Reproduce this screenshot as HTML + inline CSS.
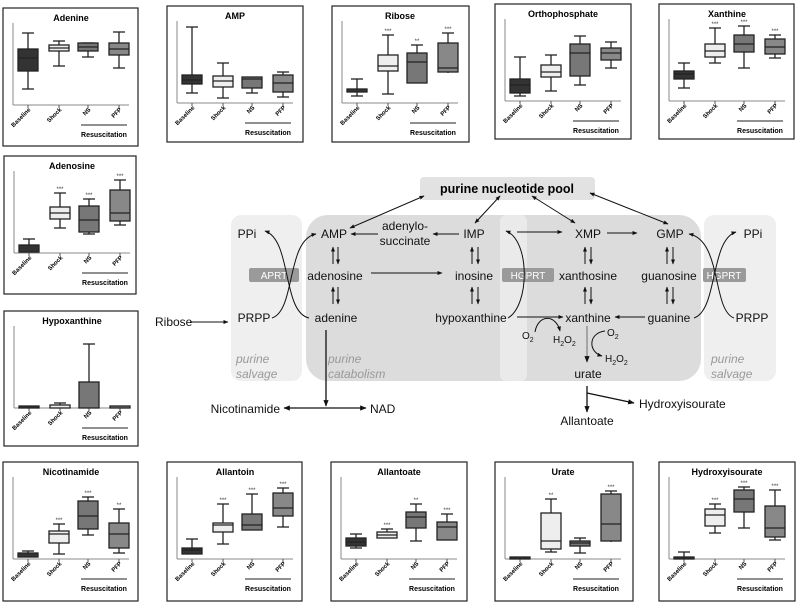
<!DOCTYPE html>
<html><head><meta charset="utf-8"><style>
html,body{margin:0;padding:0;background:#fff}
svg{display:block}
text{font-family:"Liberation Sans",Arial,sans-serif}
.t{font-size:9px;font-weight:bold;text-anchor:middle}
.g{font-size:6px;font-weight:bold;text-anchor:end}
.r{font-size:7px;font-weight:bold;text-anchor:middle}
.s{font-size:6px;text-anchor:middle;fill:#333}
.m{font-size:12px;fill:#111}
.c{text-anchor:middle}
.it{font-size:12px;font-style:italic;fill:#999}
.bx line,.bx rect{stroke:#222;stroke-width:1.3}
</style></head><body>
<svg width="800" height="602" viewBox="0 0 800 602" xmlns="http://www.w3.org/2000/svg">
<defs>
<marker id="a" viewBox="0 0 10 10" refX="9" refY="5" markerWidth="7" markerHeight="7" orient="auto-start-reverse"><path d="M0,1 L10,5 L0,9 z" fill="#111"/></marker>
<marker id="b" viewBox="0 0 10 10" refX="9" refY="5" markerWidth="5" markerHeight="5" orient="auto-start-reverse"><path d="M0,1 L10,5 L0,9 z" fill="#111"/></marker>
<g id="frame">
<line x1="10" y1="15" x2="10" y2="97" stroke="#888" stroke-width="1"/>
<line x1="10" y1="97" x2="126" y2="97" stroke="#888" stroke-width="1"/>
<line x1="25" y1="97" x2="25" y2="100" stroke="#555"/><line x1="56" y1="97" x2="56" y2="100" stroke="#555"/><line x1="85" y1="97" x2="85" y2="100" stroke="#555"/><line x1="116" y1="97" x2="116" y2="100" stroke="#555"/>
<line x1="78" y1="117" x2="124" y2="117" stroke="#222" stroke-width="1"/>
</g>
</defs>

<!-- Panel macro: explicit -->
<!-- Adenine -->
<g transform="translate(3,8)">
<rect x="0" y="0" width="135" height="138" fill="#fff" stroke="#222" stroke-width="1.2"/>
<use href="#frame"/>
<text class="t" x="68" y="13">Adenine</text>
<g class="bx">
<line x1="25" y1="25" x2="25" y2="81"/><line x1="19" y1="25" x2="31" y2="25"/><line x1="19" y1="81" x2="31" y2="81"/><rect x="15" y="41" width="20" height="22" fill="#333"/><line x1="15" y1="50" x2="35" y2="50"/>
<line x1="56" y1="33" x2="56" y2="58"/><line x1="50" y1="33" x2="62" y2="33"/><line x1="50" y1="58" x2="62" y2="58"/><rect x="46" y="37" width="20" height="6" fill="#eee"/><line x1="46" y1="40" x2="66" y2="40"/>
<line x1="85" y1="35" x2="85" y2="49"/><line x1="79" y1="35" x2="91" y2="35"/><line x1="79" y1="49" x2="91" y2="49"/><rect x="75" y="35" width="20" height="8" fill="#777"/><line x1="75" y1="39" x2="95" y2="39"/>
<line x1="116" y1="24" x2="116" y2="60"/><line x1="110" y1="24" x2="122" y2="24"/><line x1="110" y1="60" x2="122" y2="60"/><rect x="106" y="35" width="20" height="12" fill="#888"/><line x1="106" y1="41" x2="126" y2="41"/>
</g>
<text class="g" transform="translate(28,102) rotate(-45)">Baseline</text><text class="g" transform="translate(59,102) rotate(-45)">Shock</text><text class="g" transform="translate(88,102) rotate(-45)">NS</text><text class="g" transform="translate(119,102) rotate(-45)">PFP</text>
<text class="r" x="101" y="129">Resuscitation</text>
</g>

<!-- AMP -->
<g transform="translate(167,6)">
<rect x="0" y="0" width="136" height="136" fill="#fff" stroke="#222" stroke-width="1.2"/>
<use href="#frame"/>
<text class="t" x="68" y="13">AMP</text>
<g class="bx">
<line x1="25" y1="21" x2="25" y2="87"/><line x1="19" y1="21" x2="31" y2="21"/><line x1="19" y1="87" x2="31" y2="87"/><rect x="15" y="69" width="20" height="9" fill="#333"/><line x1="15" y1="74" x2="35" y2="74"/>
<line x1="56" y1="57" x2="56" y2="92"/><line x1="50" y1="57" x2="62" y2="57"/><line x1="50" y1="92" x2="62" y2="92"/><rect x="46" y="70" width="20" height="11" fill="#eee"/><line x1="46" y1="75" x2="66" y2="75"/>
<line x1="85" y1="71" x2="85" y2="87"/><line x1="79" y1="87" x2="91" y2="87"/><rect x="75" y="71" width="20" height="11" fill="#777"/><line x1="75" y1="73" x2="95" y2="73"/>
<line x1="116" y1="66" x2="116" y2="91"/><line x1="110" y1="66" x2="122" y2="66"/><line x1="110" y1="91" x2="122" y2="91"/><rect x="106" y="69" width="20" height="17" fill="#888"/><line x1="106" y1="77" x2="126" y2="77"/>
</g>
<text class="g" transform="translate(28,102) rotate(-45)">Baseline</text><text class="g" transform="translate(59,102) rotate(-45)">Shock</text><text class="g" transform="translate(88,102) rotate(-45)">NS</text><text class="g" transform="translate(119,102) rotate(-45)">PFP</text>
<text class="r" x="101" y="129">Resuscitation</text>
</g>

<!-- Ribose -->
<g transform="translate(332,6)">
<rect x="0" y="0" width="137" height="136" fill="#fff" stroke="#222" stroke-width="1.2"/>
<use href="#frame"/>
<text class="t" x="68" y="13">Ribose</text>
<g class="bx">
<line x1="25" y1="73" x2="25" y2="90"/><line x1="19" y1="73" x2="31" y2="73"/><line x1="19" y1="90" x2="31" y2="90"/><rect x="15" y="83" width="20" height="3" fill="#333"/>
<line x1="56" y1="29" x2="56" y2="88"/><line x1="50" y1="29" x2="62" y2="29"/><line x1="50" y1="88" x2="62" y2="88"/><rect x="46" y="49" width="20" height="16" fill="#eee"/><line x1="46" y1="60" x2="66" y2="60"/>
<line x1="85" y1="39" x2="85" y2="77"/><line x1="79" y1="39" x2="91" y2="39"/><rect x="75" y="47" width="20" height="30" fill="#777"/><line x1="75" y1="56" x2="95" y2="56"/>
<line x1="116" y1="27" x2="116" y2="67"/><line x1="110" y1="27" x2="122" y2="27"/><rect x="106" y="37" width="20" height="29" fill="#888"/><line x1="106" y1="62" x2="126" y2="62"/>
</g>
<text class="s" x="56" y="27">***</text><text class="s" x="85" y="37">**</text><text class="s" x="116" y="25">***</text>
<text class="g" transform="translate(28,102) rotate(-45)">Baseline</text><text class="g" transform="translate(59,102) rotate(-45)">Shock</text><text class="g" transform="translate(88,102) rotate(-45)">NS</text><text class="g" transform="translate(119,102) rotate(-45)">PFP</text>
<text class="r" x="101" y="129">Resuscitation</text>
</g>

<!-- Orthophosphate -->
<g transform="translate(495,4)">
<rect x="0" y="0" width="136" height="135" fill="#fff" stroke="#222" stroke-width="1.2"/>
<use href="#frame"/>
<text class="t" x="68" y="13">Orthophosphate</text>
<g class="bx">
<line x1="25" y1="53" x2="25" y2="92"/><line x1="19" y1="53" x2="31" y2="53"/><line x1="19" y1="92" x2="31" y2="92"/><rect x="15" y="75" width="20" height="14" fill="#333"/><line x1="15" y1="81" x2="35" y2="81"/>
<line x1="56" y1="51" x2="56" y2="87"/><line x1="50" y1="51" x2="62" y2="51"/><line x1="50" y1="87" x2="62" y2="87"/><rect x="46" y="61" width="20" height="12" fill="#eee"/><line x1="46" y1="68" x2="66" y2="68"/>
<line x1="85" y1="32" x2="85" y2="81"/><line x1="79" y1="32" x2="91" y2="32"/><line x1="79" y1="81" x2="91" y2="81"/><rect x="75" y="40" width="20" height="32" fill="#777"/><line x1="75" y1="49" x2="95" y2="49"/>
<line x1="116" y1="38" x2="116" y2="64"/><line x1="110" y1="38" x2="122" y2="38"/><line x1="110" y1="64" x2="122" y2="64"/><rect x="106" y="44" width="20" height="12" fill="#888"/><line x1="106" y1="49" x2="126" y2="49"/>
</g>
<text class="g" transform="translate(28,102) rotate(-45)">Baseline</text><text class="g" transform="translate(59,102) rotate(-45)">Shock</text><text class="g" transform="translate(88,102) rotate(-45)">NS</text><text class="g" transform="translate(119,102) rotate(-45)">PFP</text>
<text class="r" x="101" y="129">Resuscitation</text>
</g>

<!-- Xanthine -->
<g transform="translate(659,4)">
<rect x="0" y="0" width="135" height="135" fill="#fff" stroke="#222" stroke-width="1.2"/>
<use href="#frame"/>
<text class="t" x="68" y="13">Xanthine</text>
<g class="bx">
<line x1="25" y1="59" x2="25" y2="84"/><line x1="19" y1="59" x2="31" y2="59"/><line x1="19" y1="84" x2="31" y2="84"/><rect x="15" y="67" width="20" height="8" fill="#333"/><line x1="15" y1="70" x2="35" y2="70"/>
<line x1="56" y1="24" x2="56" y2="59"/><line x1="50" y1="24" x2="62" y2="24"/><line x1="50" y1="59" x2="62" y2="59"/><rect x="46" y="40" width="20" height="13" fill="#eee"/><line x1="46" y1="47" x2="66" y2="47"/>
<line x1="85" y1="22" x2="85" y2="64"/><line x1="79" y1="22" x2="91" y2="22"/><line x1="79" y1="64" x2="91" y2="64"/><rect x="75" y="31" width="20" height="17" fill="#777"/><line x1="75" y1="40" x2="95" y2="40"/>
<line x1="116" y1="31" x2="116" y2="54"/><line x1="110" y1="31" x2="122" y2="31"/><line x1="110" y1="54" x2="122" y2="54"/><rect x="106" y="35" width="20" height="15" fill="#888"/><line x1="106" y1="43" x2="126" y2="43"/>
</g>
<text class="s" x="56" y="22">***</text><text class="s" x="85" y="20">***</text><text class="s" x="116" y="29">***</text>
<text class="g" transform="translate(28,102) rotate(-45)">Baseline</text><text class="g" transform="translate(59,102) rotate(-45)">Shock</text><text class="g" transform="translate(88,102) rotate(-45)">NS</text><text class="g" transform="translate(119,102) rotate(-45)">PFP</text>
<text class="r" x="101" y="129">Resuscitation</text>
</g>

<!-- Adenosine -->
<g transform="translate(4,156)">
<rect x="0" y="0" width="132" height="138" fill="#fff" stroke="#222" stroke-width="1.2"/>
<use href="#frame"/>
<text class="t" x="68" y="13">Adenosine</text>
<g class="bx">
<line x1="25" y1="83" x2="25" y2="96"/><line x1="19" y1="83" x2="31" y2="83"/><rect x="15" y="89" width="20" height="7" fill="#333"/>
<line x1="56" y1="37" x2="56" y2="72"/><line x1="50" y1="37" x2="62" y2="37"/><line x1="50" y1="72" x2="62" y2="72"/><rect x="46" y="51" width="20" height="12" fill="#eee"/><line x1="46" y1="57" x2="66" y2="57"/>
<line x1="85" y1="43" x2="85" y2="78"/><line x1="79" y1="43" x2="91" y2="43"/><line x1="79" y1="78" x2="91" y2="78"/><rect x="75" y="50" width="20" height="26" fill="#777"/><line x1="75" y1="64" x2="95" y2="64"/>
<line x1="116" y1="24" x2="116" y2="69"/><line x1="110" y1="24" x2="122" y2="24"/><line x1="110" y1="69" x2="122" y2="69"/><rect x="106" y="34" width="20" height="31" fill="#888"/><line x1="106" y1="57" x2="126" y2="57"/>
</g>
<text class="s" x="56" y="35">***</text><text class="s" x="85" y="41">***</text><text class="s" x="116" y="22">***</text>
<text class="g" transform="translate(28,102) rotate(-45)">Baseline</text><text class="g" transform="translate(59,102) rotate(-45)">Shock</text><text class="g" transform="translate(88,102) rotate(-45)">NS</text><text class="g" transform="translate(119,102) rotate(-45)">PFP</text>
<text class="r" x="101" y="129">Resuscitation</text>
</g>

<!-- Hypoxanthine -->
<g transform="translate(4,311)">
<rect x="0" y="0" width="134" height="135" fill="#fff" stroke="#222" stroke-width="1.2"/>
<use href="#frame"/>
<text class="t" x="68" y="13">Hypoxanthine</text>
<g class="bx">
<rect x="15" y="95" width="20" height="2" fill="#333"/>
<line x1="56" y1="92" x2="56" y2="95"/><line x1="50" y1="92" x2="62" y2="92"/><rect x="46" y="94" width="20" height="3" fill="#eee"/>
<line x1="85" y1="33" x2="85" y2="71"/><line x1="79" y1="33" x2="91" y2="33"/><rect x="75" y="71" width="20" height="26" fill="#777"/>
<rect x="106" y="95" width="20" height="2" fill="#888"/>
</g>
<text class="g" transform="translate(28,102) rotate(-45)">Baseline</text><text class="g" transform="translate(59,102) rotate(-45)">Shock</text><text class="g" transform="translate(88,102) rotate(-45)">NS</text><text class="g" transform="translate(119,102) rotate(-45)">PFP</text>
<text class="r" x="101" y="129">Resuscitation</text>
</g>

<!-- Nicotinamide -->
<g transform="translate(3,462)">
<rect x="0" y="0" width="135" height="139" fill="#fff" stroke="#222" stroke-width="1.2"/>
<use href="#frame"/>
<text class="t" x="68" y="13">Nicotinamide</text>
<g class="bx">
<line x1="25" y1="89" x2="25" y2="95"/><line x1="19" y1="89" x2="31" y2="89"/><rect x="15" y="91" width="20" height="4" fill="#333"/>
<line x1="56" y1="62" x2="56" y2="92"/><line x1="50" y1="62" x2="62" y2="62"/><line x1="50" y1="92" x2="62" y2="92"/><rect x="46" y="69" width="20" height="12" fill="#eee"/><line x1="46" y1="72" x2="66" y2="72"/>
<line x1="85" y1="35" x2="85" y2="73"/><line x1="79" y1="35" x2="91" y2="35"/><line x1="79" y1="73" x2="91" y2="73"/><rect x="75" y="39" width="20" height="28" fill="#777"/><line x1="75" y1="54" x2="95" y2="54"/>
<line x1="116" y1="47" x2="116" y2="91"/><line x1="110" y1="47" x2="122" y2="47"/><line x1="110" y1="91" x2="122" y2="91"/><rect x="106" y="61" width="20" height="25" fill="#888"/><line x1="106" y1="72" x2="126" y2="72"/>
</g>
<text class="s" x="56" y="60">***</text><text class="s" x="85" y="33">***</text><text class="s" x="116" y="45">**</text>
<text class="g" transform="translate(28,102) rotate(-45)">Baseline</text><text class="g" transform="translate(59,102) rotate(-45)">Shock</text><text class="g" transform="translate(88,102) rotate(-45)">NS</text><text class="g" transform="translate(119,102) rotate(-45)">PFP</text>
<text class="r" x="101" y="129">Resuscitation</text>
</g>

<!-- Allantoin -->
<g transform="translate(167,462)">
<rect x="0" y="0" width="135" height="139" fill="#fff" stroke="#222" stroke-width="1.2"/>
<use href="#frame"/>
<text class="t" x="68" y="13">Allantoin</text>
<g class="bx">
<line x1="25" y1="77" x2="25" y2="92"/><line x1="19" y1="77" x2="31" y2="77"/><rect x="15" y="86" width="20" height="6" fill="#333"/><line x1="15" y1="88" x2="35" y2="88"/>
<line x1="56" y1="42" x2="56" y2="82"/><line x1="50" y1="42" x2="62" y2="42"/><line x1="50" y1="82" x2="62" y2="82"/><rect x="46" y="61" width="20" height="9" fill="#eee"/><line x1="46" y1="63" x2="66" y2="63"/>
<line x1="85" y1="32" x2="85" y2="68"/><line x1="79" y1="32" x2="91" y2="32"/><rect x="75" y="52" width="20" height="16" fill="#777"/><line x1="75" y1="63" x2="95" y2="63"/>
<line x1="116" y1="26" x2="116" y2="65"/><line x1="110" y1="26" x2="122" y2="26"/><line x1="110" y1="65" x2="122" y2="65"/><rect x="106" y="31" width="20" height="23" fill="#888"/><line x1="106" y1="46" x2="126" y2="46"/>
</g>
<text class="s" x="56" y="40">***</text><text class="s" x="85" y="30">***</text><text class="s" x="116" y="24">***</text>
<text class="g" transform="translate(28,102) rotate(-45)">Baseline</text><text class="g" transform="translate(59,102) rotate(-45)">Shock</text><text class="g" transform="translate(88,102) rotate(-45)">NS</text><text class="g" transform="translate(119,102) rotate(-45)">PFP</text>
<text class="r" x="101" y="129">Resuscitation</text>
</g>

<!-- Allantoate -->
<g transform="translate(331,462)">
<rect x="0" y="0" width="136" height="139" fill="#fff" stroke="#222" stroke-width="1.2"/>
<use href="#frame"/>
<text class="t" x="68" y="13">Allantoate</text>
<g class="bx">
<line x1="25" y1="72" x2="25" y2="86"/><line x1="19" y1="72" x2="31" y2="72"/><line x1="19" y1="86" x2="31" y2="86"/><rect x="15" y="76" width="20" height="8" fill="#333"/><line x1="15" y1="80" x2="35" y2="80"/>
<line x1="56" y1="67" x2="56" y2="76"/><line x1="50" y1="67" x2="62" y2="67"/><rect x="46" y="70" width="20" height="6" fill="#eee"/><line x1="46" y1="73" x2="66" y2="73"/>
<line x1="85" y1="42" x2="85" y2="79"/><line x1="79" y1="42" x2="91" y2="42"/><line x1="79" y1="79" x2="91" y2="79"/><rect x="75" y="50" width="20" height="16" fill="#777"/><line x1="75" y1="55" x2="95" y2="55"/>
<line x1="116" y1="52" x2="116" y2="78"/><line x1="110" y1="52" x2="122" y2="52"/><rect x="106" y="60" width="20" height="18" fill="#888"/><line x1="106" y1="65" x2="126" y2="65"/>
</g>
<text class="s" x="56" y="65">***</text><text class="s" x="85" y="40">**</text><text class="s" x="116" y="50">***</text>
<text class="g" transform="translate(28,102) rotate(-45)">Baseline</text><text class="g" transform="translate(59,102) rotate(-45)">Shock</text><text class="g" transform="translate(88,102) rotate(-45)">NS</text><text class="g" transform="translate(119,102) rotate(-45)">PFP</text>
<text class="r" x="101" y="129">Resuscitation</text>
</g>

<!-- Urate -->
<g transform="translate(495,462)">
<rect x="0" y="0" width="138" height="139" fill="#fff" stroke="#222" stroke-width="1.2"/>
<use href="#frame"/>
<text class="t" x="68" y="13">Urate</text>
<g class="bx">
<rect x="15" y="95" width="20" height="2" fill="#333"/>
<line x1="56" y1="37" x2="56" y2="90"/><line x1="50" y1="37" x2="62" y2="37"/><line x1="50" y1="90" x2="62" y2="90"/><rect x="46" y="51" width="20" height="36" fill="#eee"/><line x1="46" y1="79" x2="66" y2="79"/>
<line x1="85" y1="76" x2="85" y2="91"/><line x1="79" y1="76" x2="91" y2="76"/><line x1="79" y1="91" x2="91" y2="91"/><rect x="75" y="79" width="20" height="5" fill="#777"/><line x1="75" y1="81" x2="95" y2="81"/>
<line x1="116" y1="29" x2="116" y2="80"/><line x1="110" y1="29" x2="122" y2="29"/><rect x="106" y="32" width="20" height="47" fill="#888"/><line x1="106" y1="62" x2="126" y2="62"/>
</g>
<text class="s" x="56" y="35">**</text><text class="s" x="116" y="27">***</text>
<text class="g" transform="translate(28,102) rotate(-45)">Baseline</text><text class="g" transform="translate(59,102) rotate(-45)">Shock</text><text class="g" transform="translate(88,102) rotate(-45)">NS</text><text class="g" transform="translate(119,102) rotate(-45)">PFP</text>
<text class="r" x="101" y="129">Resuscitation</text>
</g>

<!-- Hydroxyisourate -->
<g transform="translate(659,462)">
<rect x="0" y="0" width="136" height="139" fill="#fff" stroke="#222" stroke-width="1.2"/>
<use href="#frame"/>
<text class="t" x="68" y="13">Hydroxyisourate</text>
<g class="bx">
<line x1="25" y1="90" x2="25" y2="95"/><line x1="19" y1="90" x2="31" y2="90"/><rect x="15" y="95" width="20" height="2" fill="#333"/>
<line x1="56" y1="42" x2="56" y2="71"/><line x1="50" y1="42" x2="62" y2="42"/><line x1="50" y1="71" x2="62" y2="71"/><rect x="46" y="47" width="20" height="17" fill="#eee"/><line x1="46" y1="53" x2="66" y2="53"/>
<line x1="85" y1="25" x2="85" y2="66"/><line x1="79" y1="25" x2="91" y2="25"/><line x1="79" y1="66" x2="91" y2="66"/><rect x="75" y="28" width="20" height="22" fill="#777"/><line x1="75" y1="37" x2="95" y2="37"/>
<line x1="116" y1="28" x2="116" y2="78"/><line x1="110" y1="28" x2="122" y2="28"/><line x1="110" y1="78" x2="122" y2="78"/><rect x="106" y="44" width="20" height="31" fill="#888"/><line x1="106" y1="66" x2="126" y2="66"/>
</g>
<text class="s" x="56" y="40">***</text><text class="s" x="85" y="23">***</text><text class="s" x="116" y="26">***</text>
<text class="g" transform="translate(28,102) rotate(-45)">Baseline</text><text class="g" transform="translate(59,102) rotate(-45)">Shock</text><text class="g" transform="translate(88,102) rotate(-45)">NS</text><text class="g" transform="translate(119,102) rotate(-45)">PFP</text>
<text class="r" x="101" y="129">Resuscitation</text>
</g>

<!-- Central diagram backgrounds -->
<rect x="231" y="215" width="71" height="166" rx="10" fill="#efefef"/>
<rect x="306" y="215" width="395" height="166" rx="22" fill="#dcdcdc"/>
<rect x="500" y="215" width="27" height="166" rx="6" fill="#eaeaea"/>
<rect x="704" y="215" width="72" height="166" rx="10" fill="#efefef"/>
<rect x="420" y="177" width="175" height="23" rx="4" fill="#e2e2e2"/>
<text x="507" y="193" font-size="12.5" font-weight="bold" text-anchor="middle">purine nucleotide pool</text>

<!-- enzyme boxes -->
<rect x="249" y="268" width="50" height="14" rx="2" fill="#9a9a9a"/><text x="274" y="279" font-size="10" fill="#fff" text-anchor="middle">APRT</text>
<rect x="502" y="268" width="52" height="14" rx="2" fill="#9a9a9a"/><text x="528" y="279" font-size="10" fill="#fff" text-anchor="middle">HGPRT</text>
<rect x="703" y="268" width="43" height="14" rx="2" fill="#9a9a9a"/><text x="724" y="279" font-size="10" fill="#fff" text-anchor="middle">HGPRT</text>

<!-- labels -->
<g class="m">
<text class="c" x="247" y="238">PPi</text>
<text class="c" x="334" y="238">AMP</text>
<text class="c" x="405" y="230">adenylo-</text>
<text class="c" x="405" y="245">succinate</text>
<text class="c" x="474" y="238">IMP</text>
<text class="c" x="588" y="238">XMP</text>
<text class="c" x="670" y="238">GMP</text>
<text class="c" x="753" y="238">PPi</text>
<text class="c" x="335" y="280">adenosine</text>
<text class="c" x="474" y="280">inosine</text>
<text class="c" x="588" y="280">xanthosine</text>
<text class="c" x="669" y="280">guanosine</text>
<text class="c" x="254" y="322">PRPP</text>
<text class="c" x="336" y="322">adenine</text>
<text class="c" x="471" y="322">hypoxanthine</text>
<text class="c" x="588" y="322">xanthine</text>
<text class="c" x="669" y="322">guanine</text>
<text class="c" x="752" y="322">PRPP</text>
<text x="155" y="326">Ribose</text>
<text class="c" x="588" y="378">urate</text>
<text x="280" y="413" text-anchor="end">Nicotinamide</text>
<text x="370" y="413">NAD</text>
<text class="c" x="587" y="425">Allantoate</text>
<text x="639" y="408">Hydroxyisourate</text>
</g>
<g font-size="10" fill="#111">
<text x="522" y="339">O<tspan font-size="7" dy="3">2</tspan></text>
<text x="553" y="343">H<tspan font-size="7" dy="3">2</tspan><tspan dy="-3">O</tspan><tspan font-size="7" dy="3">2</tspan></text>
<text x="607" y="336">O<tspan font-size="7" dy="3">2</tspan></text>
<text x="605" y="362">H<tspan font-size="7" dy="3">2</tspan><tspan dy="-3">O</tspan><tspan font-size="7" dy="3">2</tspan></text>
</g>
<g class="it">
<text x="236" y="363">purine</text><text x="236" y="378">salvage</text>
<text x="328" y="363">purine</text><text x="328" y="378">catabolism</text>
<text x="711" y="363">purine</text><text x="711" y="378">salvage</text>
</g>

<!-- arrows -->
<g stroke="#111" stroke-width="1" fill="none">
<line x1="424" y1="196" x2="350" y2="228" marker-start="url(#b)" marker-end="url(#b)"/>
<line x1="500" y1="196" x2="475" y2="223" marker-start="url(#b)" marker-end="url(#b)"/>
<line x1="532" y1="196" x2="575" y2="223" marker-start="url(#b)" marker-end="url(#b)"/>
<line x1="590" y1="193" x2="668" y2="224" marker-start="url(#b)" marker-end="url(#b)"/>
<line x1="378" y1="234" x2="351" y2="234" marker-end="url(#b)"/>
<line x1="459" y1="234" x2="433" y2="234" marker-end="url(#b)"/>
<line x1="517" y1="232" x2="562" y2="232" marker-end="url(#b)"/>
<line x1="607" y1="233" x2="637" y2="233" marker-end="url(#b)"/>
<line x1="371" y1="273" x2="442" y2="273" marker-end="url(#b)"/>
<line x1="517" y1="317" x2="563" y2="317" marker-end="url(#b)"/>
<line x1="645" y1="317" x2="615" y2="317" marker-end="url(#b)"/>
<line x1="190" y1="322" x2="228" y2="322" marker-end="url(#b)"/>
<line x1="326" y1="330" x2="326" y2="406" stroke-width="1.3" marker-end="url(#b)"/>
<line x1="325" y1="408" x2="284" y2="408" stroke-width="1.3" marker-end="url(#b)"/>
<line x1="325" y1="408" x2="366" y2="408" stroke-width="1.3" marker-end="url(#b)"/>
<line x1="587" y1="326" x2="587" y2="362" stroke="#888" stroke-width="1.3" marker-end="url(#b)"/>
<line x1="587" y1="386" x2="587" y2="412" stroke-width="1.3" marker-end="url(#b)"/>
<line x1="587" y1="393" x2="634" y2="403" stroke-width="1.3" marker-end="url(#b)"/>
<!-- up/down pairs -->
<g>
<line x1="333" y1="264" x2="333" y2="247" marker-end="url(#b)"/><line x1="338" y1="247" x2="338" y2="264" marker-end="url(#b)"/>
<line x1="333" y1="304" x2="333" y2="287" marker-end="url(#b)"/><line x1="338" y1="287" x2="338" y2="304" marker-end="url(#b)"/>
<line x1="472" y1="264" x2="472" y2="247" marker-end="url(#b)"/><line x1="478" y1="247" x2="478" y2="264" marker-end="url(#b)"/>
<line x1="472" y1="304" x2="472" y2="287" marker-end="url(#b)"/><line x1="478" y1="287" x2="478" y2="304" marker-end="url(#b)"/>
<line x1="585" y1="264" x2="585" y2="247" marker-end="url(#b)"/><line x1="591" y1="247" x2="591" y2="264" marker-end="url(#b)"/>
<line x1="585" y1="304" x2="585" y2="287" marker-end="url(#b)"/><line x1="591" y1="287" x2="591" y2="304" marker-end="url(#b)"/>
<line x1="667" y1="264" x2="667" y2="247" marker-end="url(#b)"/><line x1="673" y1="247" x2="673" y2="264" marker-end="url(#b)"/>
<line x1="667" y1="304" x2="667" y2="287" marker-end="url(#b)"/><line x1="673" y1="287" x2="673" y2="304" marker-end="url(#b)"/>
</g>
<!-- salvage curves -->
<path d="M272,318 C296,310 286,240 316,234" marker-end="url(#b)"/>
<path d="M309,318 C282,312 292,240 265,231" marker-end="url(#b)"/>
<path d="M508,318 C530,305 530,240 506,231" marker-end="url(#b)"/>
<path d="M694,318 C718,310 710,240 736,232" marker-end="url(#b)"/>
<path d="M734,318 C712,310 722,240 689,234" marker-end="url(#b)"/>
<!-- O2 curves -->
<path d="M535,332 C538,314 556,314 560,331" marker-end="url(#b)"/>
<path d="M605,331 C588,333 588,352 602,356" marker-end="url(#b)"/>
</g>
</svg>
</body></html>
